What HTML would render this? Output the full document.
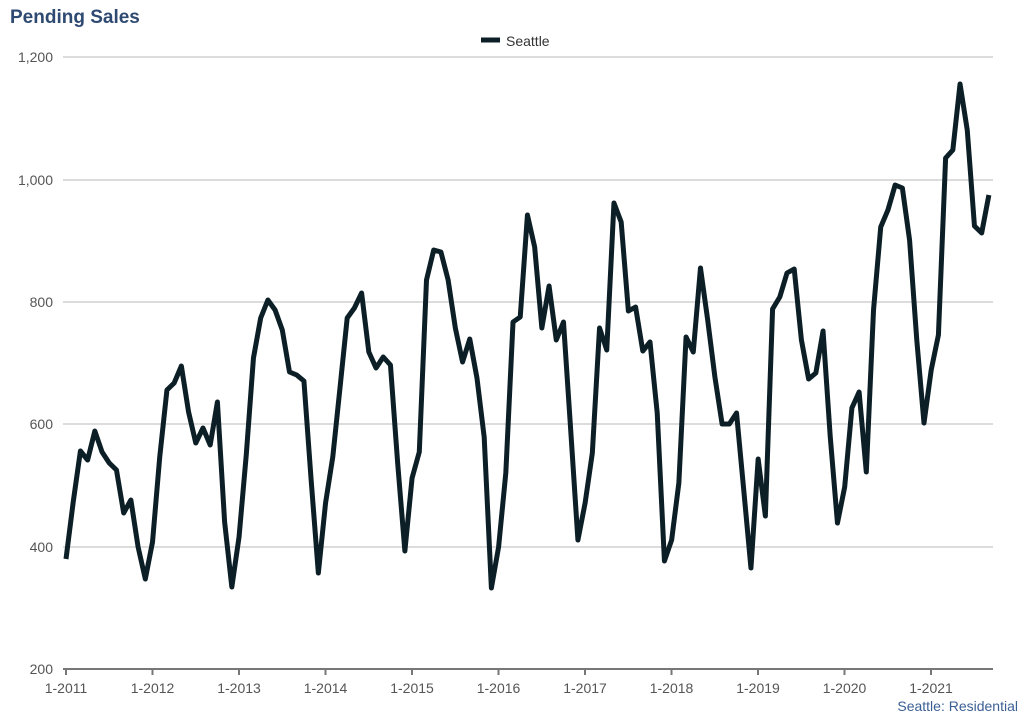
<!DOCTYPE html>
<html><head><meta charset="utf-8"><style>
body{margin:0;background:#fff;width:1024px;height:720px;overflow:hidden;font-family:"Liberation Sans",sans-serif}
</style></head><body>
<svg width="1024" height="720" xmlns="http://www.w3.org/2000/svg" font-family="Liberation Sans, sans-serif">
<text x="10" y="23" font-size="19" font-weight="bold" fill="#2e4a72">Pending Sales</text>
<line x1="481" y1="40" x2="500" y2="40" stroke="#0c1f26" stroke-width="5"/>
<text x="506" y="46" font-size="14" fill="#333">Seattle</text>
<g stroke="#c8c8c8" stroke-width="1.3">
<line x1="63" y1="57" x2="993" y2="57"/>
<line x1="63" y1="180" x2="993" y2="180"/>
<line x1="63" y1="302" x2="993" y2="302"/>
<line x1="63" y1="424" x2="993" y2="424"/>
<line x1="63" y1="547" x2="993" y2="547"/>
</g>
<line x1="63" y1="669" x2="993" y2="669" stroke="#777" stroke-width="2"/>
<g font-size="14" fill="#555" text-anchor="end">
<text x="53" y="62">1,200</text>
<text x="53" y="185">1,000</text>
<text x="53" y="307">800</text>
<text x="53" y="429">600</text>
<text x="53" y="552">400</text>
<text x="53" y="674">200</text>
</g>
<g stroke="#777" stroke-width="2">
<line x1="66" y1="669" x2="66" y2="675"/><line x1="152.5" y1="669" x2="152.5" y2="675"/><line x1="239" y1="669" x2="239" y2="675"/><line x1="325.5" y1="669" x2="325.5" y2="675"/><line x1="412" y1="669" x2="412" y2="675"/><line x1="498.5" y1="669" x2="498.5" y2="675"/><line x1="585" y1="669" x2="585" y2="675"/><line x1="671.5" y1="669" x2="671.5" y2="675"/><line x1="758" y1="669" x2="758" y2="675"/><line x1="844.5" y1="669" x2="844.5" y2="675"/><line x1="931" y1="669" x2="931" y2="675"/>
</g>
<g font-size="14" fill="#555" text-anchor="middle">
<text x="66" y="693">1-2011</text><text x="152.5" y="693">1-2012</text><text x="239" y="693">1-2013</text><text x="325.5" y="693">1-2014</text><text x="412" y="693">1-2015</text><text x="498.5" y="693">1-2016</text><text x="585" y="693">1-2017</text><text x="671.5" y="693">1-2018</text><text x="758" y="693">1-2019</text><text x="844.5" y="693">1-2020</text><text x="931" y="693">1-2021</text>
</g>
<text x="1018" y="711" font-size="14" fill="#3a5f94" text-anchor="end">Seattle: Residential</text>
<g transform="translate(66,0) scale(7.21,1)">
<polyline fill="none" stroke="#0c1f26" stroke-width="5" stroke-linejoin="round" vector-effect="non-scaling-stroke" points="0,559 1,502 2,451 3,460 4,431 5,452 6,463 7,470 8,513 9,500 10,547 11,579 12,542 13,457 14,390 15,383 16,366 17,412 18,443 19,428 20,445 21,402 22,522 23,587 24,537 25,455 26,358 27,318 28,300 29,310 30,330 31,372 32,375 33,381 34,480 35,573 36,503 37,457 38,388 39,318 40,308 41,293 42,352 43,368 44,357 45,365 46,463 47,551 48,478 49,452 50,280 51,250 52,252 53,280 54,328 55,362 56,339 57,378 58,437 59,588 60,547 61,473 62,322 63,317 64,215 65,247 66,328 67,286 68,340 69,322 70,430 71,540 72,503 73,453 74,328 75,350 76,203 77,222 78,311 79,307 80,351 81,342 82,413 83,561 84,540 85,483 86,337 87,352 88,268 89,320 90,377 91,424 92,424 93,413 94,490 95,568 96,459 97,516 98,309 99,297 100,273 101,269 102,340 103,379 104,373 105,331 106,437 107,523 108,487 109,408 110,392 111,472 112,310 113,227 114,210 115,185 116,188 117,240 118,340 119,423 120,370 121,335 122,158 123,150 124,84 125,130 126,226 127,233 128,195"/>
</g>
</svg>
</body></html>
